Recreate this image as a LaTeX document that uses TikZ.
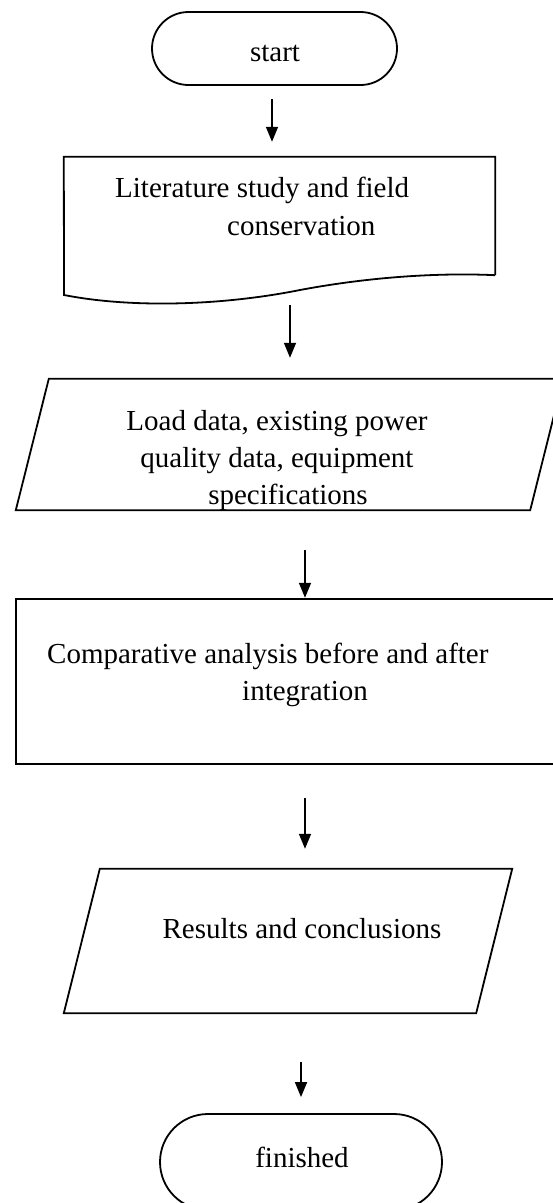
\documentclass[tikz,border=0pt]{standalone}
\usepackage{fontspec}
\setmainfont{Liberation Serif}
\usetikzlibrary{shapes.misc,arrows.meta}

\begin{document}
\begin{tikzpicture}[x=1pt,y=-1pt,
    line/.style={draw,line width=1.8pt},
    term/.style={line,rounded rectangle,inner sep=0pt},
    body/.style={rectangle,inner sep=0pt},
    proc/.style={draw,line width=2.4pt,rectangle,inner sep=0pt},
    txt/.style={inner sep=0pt,font=\fontsize{29}{37}\selectfont},
    arr/.style={line width=1.6pt,-{Triangle[length=15pt,width=12pt]}}
  ]
  \useasboundingbox (0,0) rectangle (553,1203);

  % shapes
  \node[term,minimum width=245pt,minimum height=73pt] (start) at (274.5,48.5) {};
  \node[body,minimum width=431pt,minimum height=118pt] (lit) at (279.5,216) {};
  \draw[line] (lit.south east) -- (lit.north east) -- (lit.north west) -- (64,295)
    .. controls (130,308) and (220,306) .. (300,290)
    .. controls (380,275) and (450,273) .. (lit.south east);
  \node[body,minimum width=514pt,minimum height=131pt] (load) at (289.5,444.5) {};
  \draw[line,line join=miter] ([xshift=-16.5pt]load.south west) -- ([xshift=16.5pt]load.north west)
    -- ([xshift=16.5pt]load.north east) -- ([xshift=-16.5pt]load.south east) -- cycle;
  \node[proc,minimum width=578pt,minimum height=165pt] (comp) at (305,681.5) {};
  \node[body,minimum width=412pt,minimum height=144pt] (res) at (288,941) {};
  \draw[line,line join=miter] ([xshift=-18pt]res.south west) -- ([xshift=18pt]res.north west)
    -- ([xshift=18pt]res.north east) -- ([xshift=-18pt]res.south east) -- cycle;
  \node[term,minimum width=282pt,minimum height=96pt] (fin) at (301,1162) {};

  % texts
  \node[txt,anchor=base] (starttxt) at (275,61) {start};
  \node[txt,align=left,anchor=north west] (littxt) at (115,177)
    {Literature study and field\\[1pt]\hspace*{112pt}conservation};
  \node[txt,align=center,anchor=north] (loadtxt) at (277,410)
    {Load data, existing power\\quality data, equipment\\\hspace*{22pt}specifications};
  \node[txt,align=left,anchor=north west] (comptxt) at (47,643)
    {Comparative analysis before and after\\\hspace*{195pt}integration};
  \node[txt,anchor=base] (restxt) at (302,938) {Results and conclusions};
  \node[txt,anchor=base] (fintxt) at (302,1167) {finished};

  % arrows
  \draw[arr,shorten <=13pt,shorten >=15pt] ([xshift=-2.5pt]start.south)
    -- ([xshift=-2.5pt]start.south |- lit.north);
  \draw[arr,shorten <=30pt,shorten >=21pt] ([xshift=10.5pt]lit.south)
    -- ([xshift=10.5pt]lit.south |- load.north);
  \draw[arr,shorten <=40pt] (comp.north |- load.south) -- (comp.north);
  \draw[arr,shorten <=33pt,shorten >=20pt] (comp.south) -- (comp.south |- res.north);
  \draw[arr,shorten <=49pt,shorten >=16pt] (fin.north |- res.south) -- (fin.north);
\end{tikzpicture}
\end{document}
